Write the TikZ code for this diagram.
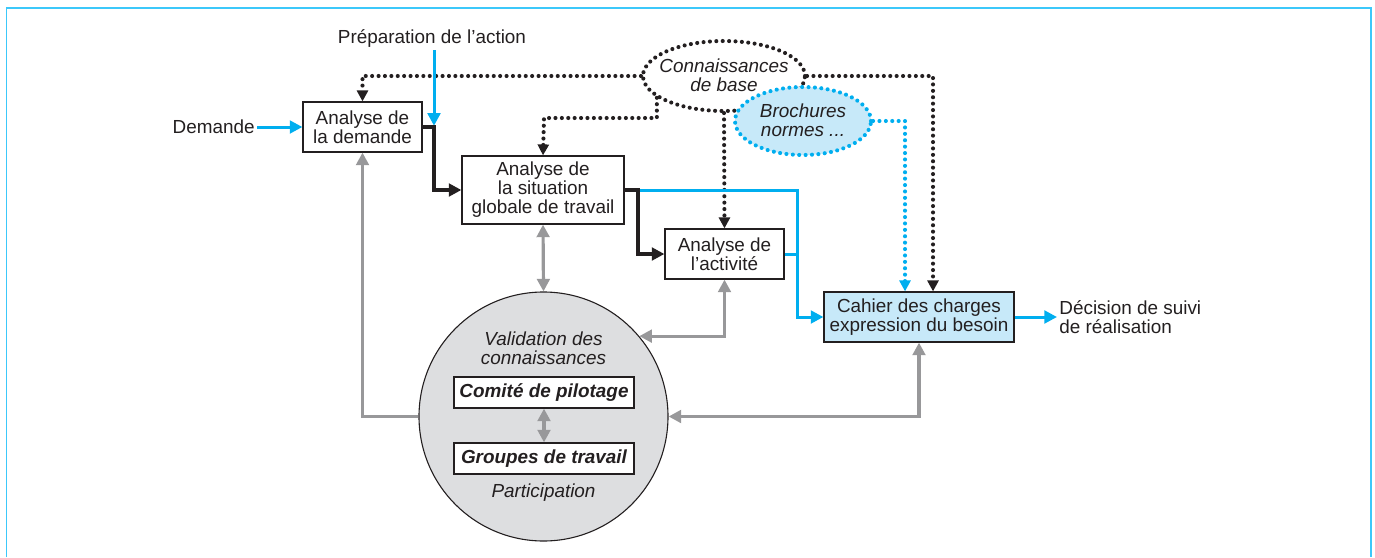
\documentclass[tikz,border=0pt]{standalone}
\usepackage{fontspec}
\setmainfont{Liberation Sans}
\usetikzlibrary{arrows.meta,shapes.geometric,calc}
\definecolor{cyanl}{RGB}{0,174,239}
\definecolor{framec}{RGB}{60,200,250}
\definecolor{grayl}{RGB}{152,152,154}
\definecolor{boxblue}{RGB}{199,233,249}
\definecolor{circfill}{RGB}{221,222,224}
\definecolor{inkk}{RGB}{35,31,32}
\newcommand\myfs{\fontsize{9.45}{9.5}\selectfont}
\begin{document}
\begin{tikzpicture}[x=0.5pt,y=-0.5pt,
  font=\myfs, text=inkk,
  txt/.style={font=\myfs,text=inkk,align=center,inner sep=1pt},
  itxt/.style={font=\myfs\itshape,text=inkk,align=center,inner sep=1pt},
  box/.style={draw=inkk,line width=0.6pt,fill=white,align=center,inner sep=0pt,text=inkk,font=\myfs},
  smallbox/.style={box,minimum width=90pt,minimum height=15.5pt,font=\myfs\bfseries\itshape},
  tip/.style={-{Triangle[length=6.3pt,width=6.3pt]}},
  dtip/.style={-{Triangle[length=5.5pt,width=5.5pt]}},
  bitip/.style={{Triangle[length=6.3pt,width=6.3pt]}-{Triangle[length=6.3pt,width=6.3pt]}},
  dotline/.style={line width=2.05pt,line cap=round,dash pattern=on 0pt off 3.2pt},
  blueline/.style={draw=cyanl,line width=1.5pt},
  blackline/.style={draw=inkk,line width=1.6pt},
  grayline/.style={draw=grayl,line width=1.6pt},
]
\useasboundingbox (0,0) rectangle (1375,557);
% frame
\draw[framec,line width=0.8pt] (6.5,557) -- (6.5,8) -- (1371,8) -- (1371,557);

% boxes
\node[box,minimum width=59.5pt,minimum height=25pt] (dem) at (362.5,127) {Analyse de\\la demande};
\node[box,minimum width=81pt,minimum height=34pt] (sit) at (543,190) {Analyse de\\la situation\\globale de travail};
\node[box,minimum width=59.5pt,minimum height=25pt] (act) at (724.5,254) {Analyse de\\l’activité};
\node[box,fill=boxblue,minimum width=95pt,minimum height=25pt] (cah) at (919,317) {Cahier des charges\\expression du besoin};

% free texts
\node[txt] (prep) at (432,39) {Préparation de l’action};
\node[txt,anchor=east] (dtext) at (257,127) {Demande};
\node[txt,anchor=west,align=left] (dec) at (1057,317) {Décision de suivi\\de réalisation};

% circle
\node[circle,draw=inkk,line width=0.55pt,fill=circfill,minimum size=124.5pt,inner sep=0pt] (circ) at (543.5,416.5) {};
\node[itxt] (val) at (543.5,348.5) {Validation des\\connaissances};
\node[smallbox] (com) at (544,392.5) {Comité de pilotage};
\node[smallbox] (grp) at (544,458.5) {Groupes de travail};
\node[itxt] (par) at (543.5,493) {Participation};

% coordinates
\coordinate (j1) at (434,127);
\coordinate (j2) at (638,190);
\coordinate (j3) at (797,190);
\coordinate (k2) at (544,118);

% knowledge ellipse
\node[ellipse,draw=inkk,dotline,minimum width=81pt,minimum height=35pt,inner sep=0pt] (kon) at (724,76) {};
\node[itxt] (kont) at (724,75.5) {Connaissances\\de base};

% dotted connectors (black)
\draw[inkk,dotline,dtip] (kon.west) -| (dem.north);
\draw[inkk,dotline,dtip] (kon.198) |- (k2) -- (sit.north);
\draw[inkk,dotline,dtip] (kon.south) -- (act.north);
\draw[inkk,dotline,dtip] (kon.east) -| ([xshift=7pt]cah.north);

% brochures ellipse
\node[ellipse,draw=cyanl,fill=boxblue,dotline,minimum width=68pt,minimum height=34pt,inner sep=0pt] (bro) at (803,121) {};
\node[itxt] (brot) at (803,120.5) {Brochures\\normes ...};
\draw[cyanl,dotline,dtip] (bro.east) -| ([xshift=-7pt]cah.north);

% blue flows
\draw[blueline,tip] (dtext.east) -- (dem.west);
\draw[blueline,tip,shorten >=0.6pt] (prep.south -| j1) -- (j1);
\draw[blueline,tip] (j2) -- (j3) |- (cah.west);
\draw[blueline] (act.east) -- (act.east -| j3);
\draw[blueline,tip] (cah.east) -- (dec.west);

% black flows
\draw[blackline,tip] (dem.east) -- (j1) |- (sit.west);
\draw[blackline,tip] (sit.east) -- (j2) |- (act.west);

% gray flows
\draw[grayline,bitip] (sit.south) -- (circ.north);
\draw[grayline,bitip] (act.south) |- (circ.40);
\draw[grayline,bitip] (circ.east) -| (cah.south);
\draw[grayline,tip] (circ.west) -| (dem.south);
\draw[grayline,bitip] (com.south) -- (grp.north);
\end{tikzpicture}
\end{document}
